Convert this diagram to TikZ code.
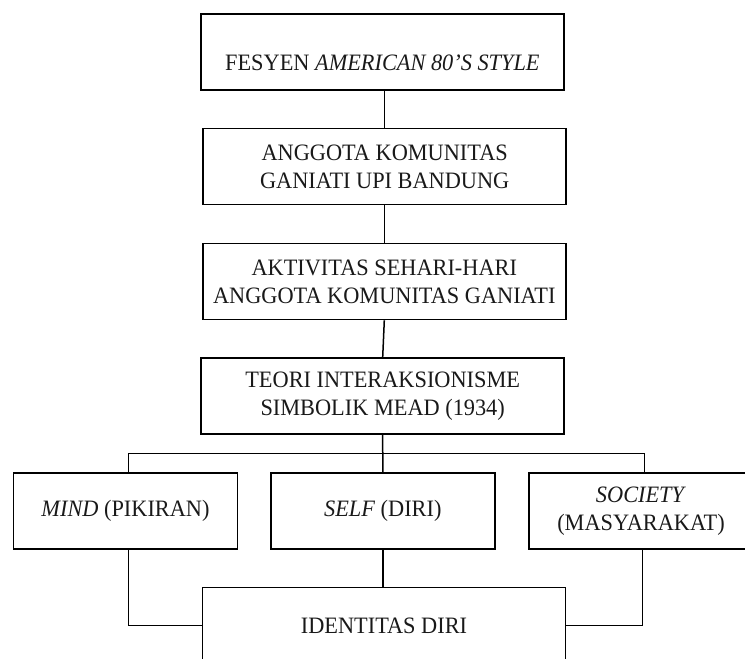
\documentclass[tikz,border=0pt]{standalone}
\usepackage{fontspec}
\setmainfont{Liberation Serif}[FakeStretch=0.95]
\begin{document}
\begin{tikzpicture}[x=1pt,y=-1pt,
  box/.style={draw, line width=1.5pt, rectangle, align=center, inner sep=0pt,
    minimum height=76pt, font=\fontsize{23.5}{28}\selectfont, text=black!90},
  wide/.style={box, minimum width=363pt},
  narrow/.style={box, minimum width=224pt},
  link/.style={line width=1.5pt}]
\useasboundingbox (0,0) rectangle (745,659);
\node[wide, text height=36pt, text depth=0pt] (b1) at (382.4,52) {FESYEN \textit{AMERICAN 80’S STYLE}};
\node[wide] (b2) at (384.7,166.5) {ANGGOTA KOMUNITAS\\GANIATI UPI BANDUNG};
\node[wide] (b3) at (384.3,281.5) {AKTIVITAS SEHARI-HARI\\ANGGOTA KOMUNITAS GANIATI};
\node[wide] (b4) at (382.7,396) {TEORI INTERAKSIONISME\\SIMBOLIK MEAD (1934)};
\node[narrow] (mind) at (125.5,510.8) {\textit{MIND} (PIKIRAN)};
\node[narrow] (self) at (382.8,510.8) {\textit{SELF} (DIRI)};
\node[narrow] (society) at (641,510.8) {\textit{SOCIETY}\\(MASYARAKAT)};
\node[wide] (ident) at (384,625.5) {IDENTITAS DIRI};
\coordinate (jl) at (128.3,453.3);
\coordinate (jr) at (644.3,453.3);
\coordinate (kl) at (128.3,549);
\coordinate (kr) at (642.7,549);
\draw[link] (b1.south -| b2.north) -- (b2.north);
\draw[link] (b2.south) -- (b2.south -| b3.north) -- (b3.north);
\draw[link] (b3.south) -- (b4.north);
\draw[link] (b4.south) -- (self.north);
\draw[link] (jl |- mind.north) -- (jl) -- (jr) -- (jr |- society.north);
\draw[link] (kl) -- (kl |- ident.west) -- (ident.west);
\draw[link] (kr) -- (kr |- ident.east) -- (ident.east);
\draw[link] (self.south) -- (self.south |- ident.north);
\end{tikzpicture}
\end{document}
